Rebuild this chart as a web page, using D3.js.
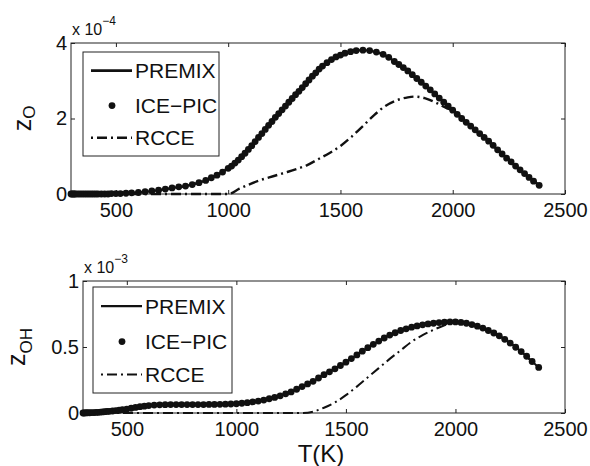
<!DOCTYPE html>
<html>
<head>
<meta charset="utf-8">
<script src="https://cdn.jsdelivr.net/npm/d3@7"></script>
<style>
  body { margin: 0; background: #fff; }
  svg { font-family: "Liberation Sans", Arial, Helvetica, sans-serif; }
</style>
</head>
<body>
<div id="viz"></div>
<script>
// Temperature ticks shared by both panels
const tempTicks = [500, 1000, 1500, 2000, 2500];
const oTicks = [0, 2, 4];          // x 1e-4
const ohTicks = [0, 0.5, 1];       // x 1e-3
const legendLabels = ['PREMIX', 'ICE\u2212PIC', 'RCCE'];

// z_O (x 1e-4) vs T(K)
const premixO = [[300,0],[400,0],[450,0],[500,0.01],[550,0.02],[600,0.04],[650,0.07],[700,0.11],[750,0.16],[800,0.2],[850,0.27],[900,0.36],[950,0.5],[1000,0.68],[1050,0.93],[1100,1.25],[1150,1.6],[1200,1.95],[1250,2.3],[1300,2.63],[1350,2.95],[1400,3.28],[1450,3.52],[1500,3.68],[1550,3.78],[1600,3.81],[1650,3.77],[1700,3.67],[1750,3.47],[1800,3.26],[1850,3.01],[1900,2.76],[1950,2.49],[2000,2.22],[2050,1.95],[2100,1.7],[2150,1.45],[2200,1.17],[2250,0.9],[2300,0.64],[2350,0.39],[2385,0.23]];
const icePicO = [[300,0],[305,0],[310,0],[315,0],[320,0],[330,0],[340,0],[350,0],[360,0],[370,0],[380,0],[390,0],[400,0],[410,0],[420,0],[435,0],[450,0],[465,0],[480,0.01],[500,0.01],[520,0.01],[545,0.02],[570,0.03],[600,0.04],[630,0.06],[660,0.08],[690,0.1],[720,0.13],[750,0.16],[780,0.19],[810,0.21],[840,0.25],[870,0.3],[900,0.36],[925,0.43],[950,0.5],[975,0.58],[1000,0.68],[1015,0.74],[1030,0.82],[1045,0.9],[1060,0.99],[1075,1.08],[1090,1.18],[1105,1.28],[1120,1.39],[1135,1.5],[1150,1.6],[1165,1.71],[1180,1.82],[1195,1.92],[1210,2.03],[1225,2.13],[1240,2.23],[1255,2.33],[1270,2.43],[1285,2.53],[1300,2.63],[1315,2.72],[1330,2.82],[1345,2.92],[1360,3.02],[1375,3.12],[1390,3.21],[1405,3.31],[1420,3.39],[1440,3.48],[1460,3.56],[1480,3.63],[1500,3.68],[1520,3.73],[1545,3.77],[1570,3.8],[1600,3.81],[1630,3.8],[1660,3.76],[1690,3.7],[1715,3.62],[1740,3.51],[1760,3.43],[1780,3.35],[1800,3.26],[1820,3.16],[1840,3.06],[1860,2.96],[1880,2.86],[1900,2.76],[1920,2.65],[1940,2.54],[1960,2.43],[1980,2.33],[2000,2.22],[2020,2.11],[2040,2.0],[2060,1.9],[2080,1.8],[2100,1.7],[2120,1.6],[2140,1.5],[2160,1.4],[2180,1.29],[2200,1.17],[2220,1.06],[2240,0.95],[2260,0.85],[2280,0.74],[2300,0.64],[2320,0.54],[2340,0.44],[2360,0.34],[2385,0.23]];
const rcceO = [[300,0],[600,0],[800,0],[1000,0],[1050,0.14],[1100,0.27],[1150,0.38],[1200,0.47],[1250,0.56],[1300,0.65],[1350,0.76],[1400,0.92],[1450,1.08],[1500,1.27],[1550,1.52],[1600,1.8],[1650,2.09],[1700,2.33],[1750,2.48],[1800,2.56],[1830,2.58],[1875,2.54],[1925,2.42],[1975,2.27],[2000,2.22],[2050,1.95],[2100,1.7],[2150,1.45],[2200,1.17],[2250,0.9],[2300,0.64],[2350,0.39],[2385,0.23]];

// z_OH (x 1e-3) vs T(K)
const premixOH = [[300,0],[350,0.003],[400,0.01],[450,0.018],[500,0.03],[550,0.045],[600,0.056],[650,0.062],[700,0.064],[800,0.064],[900,0.065],[1000,0.07],[1050,0.078],[1100,0.09],[1150,0.108],[1200,0.13],[1250,0.16],[1300,0.2],[1350,0.24],[1400,0.29],[1450,0.335],[1500,0.385],[1550,0.44],[1600,0.495],[1650,0.545],[1700,0.59],[1750,0.625],[1800,0.65],[1850,0.668],[1900,0.68],[1950,0.688],[2000,0.69],[2050,0.68],[2100,0.658],[2150,0.625],[2200,0.585],[2250,0.53],[2300,0.465],[2350,0.39],[2380,0.345]];
const icePicOH = [[300,0],[305,0],[310,0.001],[315,0.001],[320,0.002],[330,0.002],[340,0.003],[350,0.003],[360,0.004],[370,0.005],[380,0.007],[390,0.008],[400,0.01],[410,0.012],[420,0.013],[435,0.015],[450,0.018],[465,0.021],[480,0.025],[500,0.03],[520,0.036],[540,0.042],[560,0.048],[580,0.052],[600,0.056],[625,0.06],[650,0.062],[675,0.063],[700,0.064],[725,0.064],[750,0.064],[775,0.064],[800,0.064],[825,0.064],[850,0.064],[875,0.065],[900,0.065],[925,0.066],[950,0.067],[975,0.068],[1000,0.07],[1025,0.074],[1050,0.078],[1075,0.084],[1100,0.09],[1125,0.098],[1150,0.108],[1175,0.118],[1200,0.13],[1225,0.145],[1250,0.16],[1275,0.18],[1300,0.2],[1325,0.22],[1350,0.24],[1375,0.265],[1400,0.29],[1425,0.312],[1450,0.335],[1475,0.36],[1500,0.385],[1525,0.412],[1550,0.44],[1575,0.468],[1600,0.495],[1625,0.52],[1650,0.545],[1675,0.568],[1700,0.59],[1725,0.608],[1750,0.625],[1775,0.638],[1800,0.65],[1825,0.66],[1850,0.668],[1875,0.675],[1900,0.68],[1925,0.685],[1950,0.688],[1975,0.69],[2000,0.69],[2025,0.686],[2050,0.68],[2075,0.67],[2100,0.658],[2125,0.643],[2150,0.625],[2175,0.606],[2200,0.585],[2225,0.558],[2250,0.53],[2275,0.498],[2300,0.465],[2325,0.43],[2350,0.39],[2380,0.345]];
const rcceOH = [[300,0],[800,0],[1300,0],[1350,0.01],[1400,0.04],[1450,0.08],[1500,0.135],[1550,0.2],[1600,0.27],[1650,0.34],[1700,0.41],[1750,0.475],[1800,0.54],[1850,0.59],[1900,0.63],[1950,0.665],[2000,0.69],[2050,0.68],[2100,0.658],[2150,0.625],[2200,0.585],[2250,0.53],[2300,0.465],[2350,0.39],[2380,0.345]];

const width = 590;
const height = 466;
const ink = '#111';

const svg = d3.select('#viz')
  .append('svg')
    .attr('width', width)
    .attr('height', height)
    .attr('viewBox', `0 0 ${width} ${height}`);

const panels = [
  {
    premix: premixO, ice: icePicO, rcce: rcceO,
    yMax: 4, yTicks: oTicks, yFmt: d3.format('d'), exp: '\u22124', sub: 'O',
    box: {left: 71, right: 565, top: 43, bottom: 194},
    legend: {x: 83, y: 52, w: 136, h: 104},
    labelX: 31, subShift: 4, lineWidth: 2.4
  },
  {
    premix: premixOH, ice: icePicOH, rcce: rcceOH,
    yMax: 1, yTicks: ohTicks, yFmt: d => d === 0.5 ? '0.5' : d3.format('d')(d), exp: '\u22123', sub: 'OH',
    box: {left: 83, right: 565, top: 281, bottom: 413},
    legend: {x: 93, y: 287, w: 139, h: 106},
    labelX: 25, subShift: 7, lineWidth: 2
  }
];

panels.forEach(p => {
  const b = p.box;
  const x = d3.scaleLinear().domain([300, 2500]).range([b.left, b.right]);
  const y = d3.scaleLinear().domain([0, p.yMax]).range([b.bottom, b.top]);
  const g = svg.append('g');

  // Axes box
  g.append('rect')
    .attr('x', b.left).attr('y', b.top)
    .attr('width', b.right - b.left).attr('height', b.bottom - b.top)
    .attr('fill', 'none').attr('stroke', '#222').attr('stroke-width', 1);

  const styleAxis = sel => {
    sel.select('.domain').remove();
    sel.selectAll('line').attr('stroke', '#222');
    sel.selectAll('text')
      .attr('fill', ink)
      .style('font-size', '20px')
      .style('font-family', '"Liberation Sans", Arial, sans-serif');
  };

  g.append('g')
    .attr('transform', `translate(0,${b.bottom})`)
    .call(d3.axisBottom(x).tickValues(tempTicks).tickSize(-4).tickPadding(9).tickFormat(d3.format('d')))
    .call(styleAxis);
  g.append('g')
    .attr('transform', `translate(0,${b.top})`)
    .call(d3.axisTop(x).tickValues(tempTicks).tickSize(-4).tickFormat(''))
    .call(styleAxis);
  g.append('g')
    .attr('transform', `translate(${b.left},0)`)
    .call(d3.axisLeft(y).tickValues(p.yTicks).tickSize(-4).tickPadding(4).tickFormat(p.yFmt))
    .call(styleAxis);
  g.append('g')
    .attr('transform', `translate(${b.right},0)`)
    .call(d3.axisRight(y).tickValues(p.yTicks).tickSize(-4).tickFormat(''))
    .call(styleAxis);

  // Exponent label
  const expText = g.append('text')
    .attr('x', b.left + 1)
    .attr('y', b.top - 8)
    .attr('fill', ink)
    .style('font-size', '16px')
    .text('x 10');
  expText.append('tspan')
    .attr('dy', -10)
    .style('font-size', '12px')
    .text(p.exp);

  // y label, rotated to read bottom to top
  const yLab = g.append('g')
    .attr('transform', `translate(${p.labelX},${(b.top + b.bottom) / 2}) rotate(-90)`)
    .append('text')
      .attr('text-anchor', 'middle')
      .attr('fill', ink)
      .style('font-size', '25px');
  yLab.append('tspan').text('z');
  yLab.append('tspan')
    .attr('dy', p.subShift)
    .style('font-size', '17px')
    .text(p.sub);

  const line = d3.line()
    .x(d => x(d[0]))
    .y(d => y(d[1]))
    .curve(d3.curveMonotoneX);

  g.append('path')
    .attr('d', line(p.premix))
    .attr('fill', 'none')
    .attr('stroke', ink)
    .attr('stroke-width', p.lineWidth);

  g.append('g')
    .selectAll('circle')
    .data(p.ice)
    .join('circle')
      .attr('cx', d => x(d[0]))
      .attr('cy', d => y(d[1]))
      .attr('r', 3.4)
      .attr('fill', ink);

  g.append('path')
    .attr('d', line(p.rcce))
    .attr('fill', 'none')
    .attr('stroke', ink)
    .attr('stroke-width', p.lineWidth)
    .attr('stroke-dasharray', '10,4,2,4');

  // Legend
  const L = p.legend;
  const lg = g.append('g').attr('transform', `translate(${L.x},${L.y})`);
  lg.append('rect')
    .attr('width', L.w).attr('height', L.h)
    .attr('fill', '#fff').attr('stroke', '#222').attr('stroke-width', 1);
  const rowY = [L.h * 0.18, L.h * 0.515, L.h * 0.825];
  legendLabels.forEach((lab, i) => {
    const ry = rowY[i];
    if (i === 0) {
      lg.append('line').attr('x1', 8).attr('x2', 49).attr('y1', ry).attr('y2', ry)
        .attr('stroke', ink).attr('stroke-width', p.lineWidth + 0.4);
    } else if (i === 1) {
      lg.append('circle').attr('cx', 29).attr('cy', ry).attr('r', 3.4).attr('fill', ink);
    } else {
      lg.append('line').attr('x1', 8).attr('x2', 49).attr('y1', ry).attr('y2', ry)
        .attr('stroke', ink).attr('stroke-width', p.lineWidth)
        .attr('stroke-dasharray', '2,4,10,4');
    }
    lg.append('text')
      .attr('x', 52)
      .attr('y', ry)
      .attr('dy', '0.36em')
      .attr('fill', ink)
      .style('font-size', '21px')
      .text(lab);
  });
});

// x label
svg.append('text')
  .attr('x', 321)
  .attr('y', 462)
  .attr('text-anchor', 'middle')
  .attr('fill', ink)
  .style('font-size', '24px')
  .text('T(K)');
</script>
</body>
</html>
